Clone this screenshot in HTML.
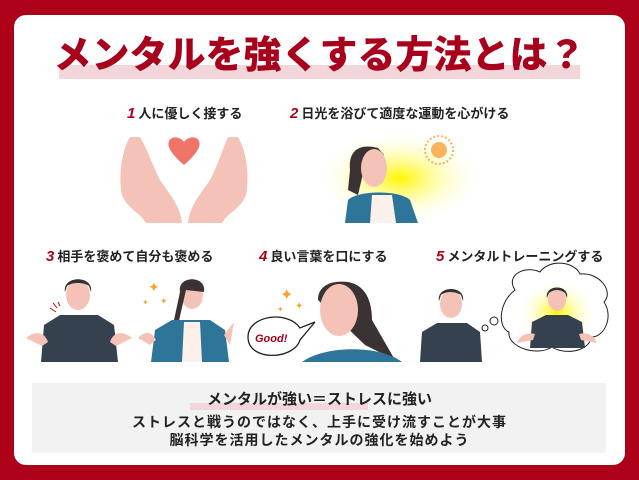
<!DOCTYPE html>
<html><head><meta charset="utf-8"><style>
body{margin:0;width:639px;height:480px;background:#ad0019;overflow:hidden;font-family:"Liberation Sans","Noto Sans CJK JP",sans-serif;position:relative}
.card{position:absolute;left:14px;top:15px;width:611px;height:450px;background:#fff;border-radius:12px}
.t{position:absolute;white-space:nowrap;font-weight:bold}
.lab{font-size:13px;color:#222}
.lab b{color:#b0001c;font-style:italic;font-size:15px;margin-right:3px}
</style></head><body>
<div class="card"></div>
<div style="position:absolute;left:59px;top:65px;width:521px;height:14px;background:#f2d6da"></div>
<svg width="639" height="480" style="position:absolute;left:0;top:0">
<defs><radialGradient id="g"><stop offset="0" stop-color="#fff700"/><stop offset="1" stop-color="#fff" stop-opacity="0"/></radialGradient></defs>
<!-- hands -->
<path d="M130,137 C122,150 118,175 122,195 C128,210 140,212 146,223 L182,223 C180,205 170,195 160,180 C152,165 148,150 140,137 Z" fill="#f5c2b8"/>
<path d="M238,137 C246,150 250,175 246,195 C240,210 228,212 222,223 L188,223 C190,205 200,195 210,180 C218,165 222,150 228,137 Z" fill="#f5c2b8"/>
<path d="M184,165 C170,153 164,143 172,138 C177,136 182,139 184,142 C186,139 191,136 196,138 C204,143 198,153 184,165Z" fill="#f07467"/>
<!-- woman sun -->
<ellipse cx="400" cy="178" rx="85" ry="48" fill="url(#g)"/>
<circle cx="439" cy="150" r="8" fill="#fdb35a"/>
<circle cx="439" cy="150" r="14" fill="none" stroke="#fdb35a" stroke-width="2" stroke-dasharray="2 2"/>
<path d="M350,170 C348,150 360,143 378,148 L384,155 L365,165 L358,195 L348,190Z" fill="#3b3333"/>
<ellipse cx="374" cy="168" rx="13" ry="19" fill="#f5c2b8"/>
<path d="M345,223 L348,200 C358,190 400,190 410,200 L418,223Z" fill="#2e7699"/>
<path d="M370,223 L372,195 L392,195 L396,223Z" fill="#fbf1ea"/>
<!-- row3 man -->
<ellipse cx="78" cy="295" rx="12" ry="15" fill="#f5c2b8"/><path d="M65,292 C62,275 94,275 91,292 L89,286 C84,282 72,282 67,286Z" fill="#333"/>
<path d="M41,362 L44,325 L60,315 L98,315 L114,325 L118,362Z" fill="#36414f"/>
<path d="M26,338 C35,330 45,332 48,342 L42,346Z M132,338 C123,330 113,332 110,342 L116,346Z" fill="#f5c2b8"/>
<path d="M50,308 L56,312 M53,303 L57,308 M58,302 L60,306" stroke="#c00" stroke-width="1"/>
<!-- woman -->
<ellipse cx="192" cy="295" rx="11" ry="14" fill="#f5c2b8"/><path d="M180,292 C177,275 207,275 204,292 L186,290 L178,325 L174,320Z" fill="#3b3333"/>
<path d="M151,362 L155,330 L172,320 L210,320 L225,330 L229,362Z" fill="#2e7699"/>
<path d="M182,362 L184,322 L200,322 L202,362Z" fill="#fbf1ea"/>
<path d="M138,338 C145,330 152,332 156,340 L150,345Z M234,322 L224,335 L230,345Z" fill="#f5c2b8"/>
<text x="148" y="292" fill="#f7a532" font-size="14">✦</text><text x="142" y="305" fill="#f7a532" font-size="8">✦</text><text x="160" y="304" fill="#f7a532" font-size="9">✦</text>
<!-- row4 -->
<text x="280" y="300" fill="#f7a532" font-size="16">✦</text><text x="295" y="309" fill="#f7a532" font-size="10">✦</text><text x="277" y="312" fill="#f7a532" font-size="8">✦</text>
<path d="M318,300 C318,285 332,280 348,282 C365,285 372,300 372,320 L395,360 L365,345 Z" fill="#3b3333"/>
<ellipse cx="339" cy="310" rx="19" ry="26" fill="#f5c2b8"/>
<path d="M302,362 C325,345 380,345 402,362Z" fill="#2e7699"/>
<path d="M248,337 C248,315 288,310 300,328 L315,322 L300,340 C294,360 248,362 248,337Z" fill="#fff" stroke="#222" stroke-width="1.3"/>
<text x="255" y="342" fill="#a8001c" font-size="11" font-weight="bold" font-style="italic">Good!</text>
<!-- row5 -->
<ellipse cx="451" cy="304" rx="11" ry="14" fill="#f5c2b8"/><path d="M439,301 C436,285 466,285 463,301 L461,295 C455,291 446,291 441,295Z" fill="#333"/>
<path d="M420,362 L422,332 L437,323 L467,323 L480,332 L482,362Z" fill="#36414f"/>
<circle cx="485" cy="328" r="3" fill="#fff" stroke="#222"/><circle cx="494" cy="321" r="4" fill="#fff" stroke="#222"/>
<path d="M515,290 C505,275 525,265 540,272 C550,258 575,262 580,274 C600,272 614,292 604,302 C614,317 604,337 592,337 C587,354 562,354 552,347 C537,357 507,347 509,332 C497,327 499,302 515,290Z" fill="#fff" stroke="#222" stroke-width="1"/>
<ellipse cx="557" cy="312" rx="40" ry="32" fill="url(#g)"/>
<ellipse cx="557" cy="300" rx="9" ry="11" fill="#f5c2b8"/><path d="M547,298 C544,284 570,284 567,298 L565,293 C560,289 554,289 549,293Z" fill="#333"/>
<path d="M530,348 L532,322 L546,315 L568,315 L582,322 L585,348Z" fill="#36414f"/>
<path d="M517,343 C520,335 527,332 535,334 L533,340Z M597,343 C594,335 587,332 579,334 L581,340Z" fill="#f5c2b8"/>
</svg>
<div class="t" style="left:0;width:639px;text-align:center;top:33px;font-size:38px;color:#a8001c;line-height:46px;font-weight:900">メンタルを強くする方法とは？</div>
<div class="t lab" style="left:127px;top:103px"><b>1</b>人に優しく接する</div>
<div class="t lab" style="left:290px;top:103px"><b>2</b>日光を浴びて適度な運動を心がける</div>
<div class="t lab" style="left:46px;top:246px"><b>3</b>相手を褒めて自分も褒める</div>
<div class="t lab" style="left:259px;top:246px"><b>4</b>良い言葉を口にする</div>
<div class="t lab" style="left:436px;top:246px"><b>5</b>メンタルトレーニングする</div>
<div style="position:absolute;left:32px;top:383px;width:574px;height:70px;background:#f2f2f2"></div>
<div style="position:absolute;left:190px;top:403px;width:178px;height:7px;background:#f2d6da"></div>
<div class="t" style="left:0;width:639px;text-align:center;top:390px;font-size:15px;color:#222;line-height:20px">メンタルが強い＝ストレスに強い</div>
<div class="t" style="left:0;width:639px;text-align:center;top:413px;font-size:14px;color:#222;line-height:18px;letter-spacing:1px">ストレスと戦うのではなく、上手に受け流すことが大事<br>脳科学を活用したメンタルの強化を始めよう</div>
</body></html>
